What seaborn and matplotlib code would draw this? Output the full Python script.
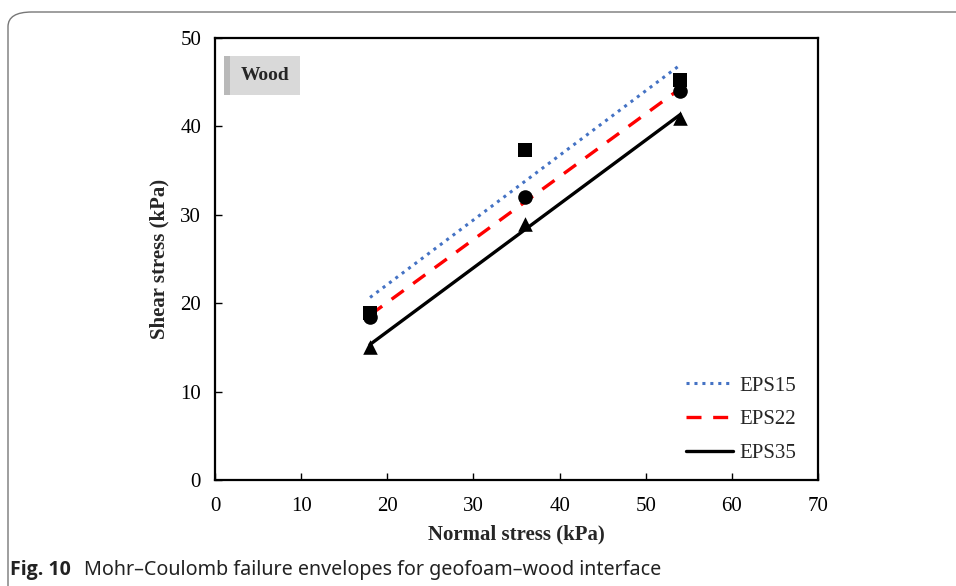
import matplotlib
matplotlib.use("Agg")
import matplotlib.pyplot as plt
import seaborn as sns
import numpy as np
import pandas as pd
from matplotlib.patches import FancyBboxPatch
from matplotlib.lines import Line2D

normal_stress = [18, 36, 54]
eps15 = [18.9, 37.3, 45.2]
eps22 = [18.4, 32.0, 44.0]
eps35 = [15.0, 29.0, 41.0]
series_names = ["EPS15", "EPS22", "EPS35"]
x_ticks = [0, 10, 20, 30, 40, 50, 60, 70]
y_ticks = [0, 10, 20, 30, 40, 50]

sns.set_theme(style="white")
plt.rcParams['font.family'] = ['Liberation Serif', 'DejaVu Serif']

fig = plt.figure(figsize=(9.56, 5.86), dpi=100)
ax = fig.add_axes([215/956, 1-480/586, (818-215)/956, (480-38)/586])

# outer rounded frame
frame = FancyBboxPatch((8/956, -0.2), 1.2, 1 - 12/586 + 0.2,
                       boxstyle="round,pad=0,rounding_size=0.025",
                       transform=fig.transFigure, fill=False,
                       edgecolor="#777777", linewidth=1.0, clip_on=False)
fig.patches.append(frame)

styles = {
    "EPS15": dict(color="#4472C4", ls=(0, (1, 1.6)), marker="s", lw=2.2),
    "EPS22": dict(color="#FF0000", ls=(0, (4.5, 3.5)), marker="o", lw=2.4),
    "EPS35": dict(color="black", ls="-", marker="^", lw=2.4),
}
values = {"EPS15": eps15, "EPS22": eps22, "EPS35": eps35}

for name in series_names:
    st = styles[name]
    df = pd.DataFrame({"x": normal_stress, "y": values[name]})
    sns.regplot(data=df, x="x", y="y", ax=ax, ci=None, truncate=True,
                scatter=False, line_kws=dict(color=st["color"], ls=st["ls"],
                                             lw=st["lw"]))
for name in series_names:
    st = styles[name]
    df = pd.DataFrame({"x": normal_stress, "y": values[name]})
    sns.scatterplot(data=df, x="x", y="y", ax=ax, marker=st["marker"],
                    color="black", s=110, edgecolor="black", linewidth=0,
                    zorder=3, legend=False)

ax.set_xlim(0, 70)
ax.set_ylim(0, 50)
ax.set_xticks(x_ticks)
ax.set_yticks(y_ticks)
ax.tick_params(axis="both", direction="in", length=5, width=1, colors="black",
               labelsize=15, pad=10)
ax.tick_params(axis="x", bottom=True, top=False, pad=12)
ax.tick_params(axis="y", left=True, right=False)
for sp in ax.spines.values():
    sp.set_color("black")
    sp.set_linewidth(1.6)
ax.set_xlabel("Normal stress (kPa)", fontsize=15, fontweight="bold", labelpad=6)
ax.set_ylabel("Shear stress (kPa)", fontsize=15, fontweight="bold", labelpad=8)

handles = [Line2D([], [], color=styles[n]["color"], ls=styles[n]["ls"],
                  lw=styles[n]["lw"]) for n in series_names]
leg = ax.legend(handles, series_names, loc="lower right", frameon=False,
                fontsize=15, handlelength=2.25, handletextpad=0.3,
                labelspacing=0.68, bbox_to_anchor=(0.995, -0.004))

# Wood label with shadow
ax.text(0.033, 0.915, " ", transform=ax.transAxes, fontsize=14,
        va="center", ha="left",
        bbox=dict(boxstyle="square,pad=0.55", facecolor="#a8a8a8",
                  edgecolor="none", alpha=0.8))
ax.text(0.043, 0.915, "Wood", transform=ax.transAxes, fontsize=14,
        fontweight="bold", va="center", ha="left",
        bbox=dict(boxstyle="square,pad=0.55", facecolor="#d9d9d9",
                  edgecolor="none"))

fig.text(10/956, 1-570/586, "Fig. 10", fontsize=14, fontweight="bold",
         family="Open Sans", va="center", ha="left", color="#222222")
fig.text(84/956, 1-570/586, "Mohr–Coulomb failure envelopes for geofoam–wood interface",
         fontsize=14.2, family="Noto Sans", va="center", ha="left", color="#222222")

fig.savefig("out.png", dpi=100)
